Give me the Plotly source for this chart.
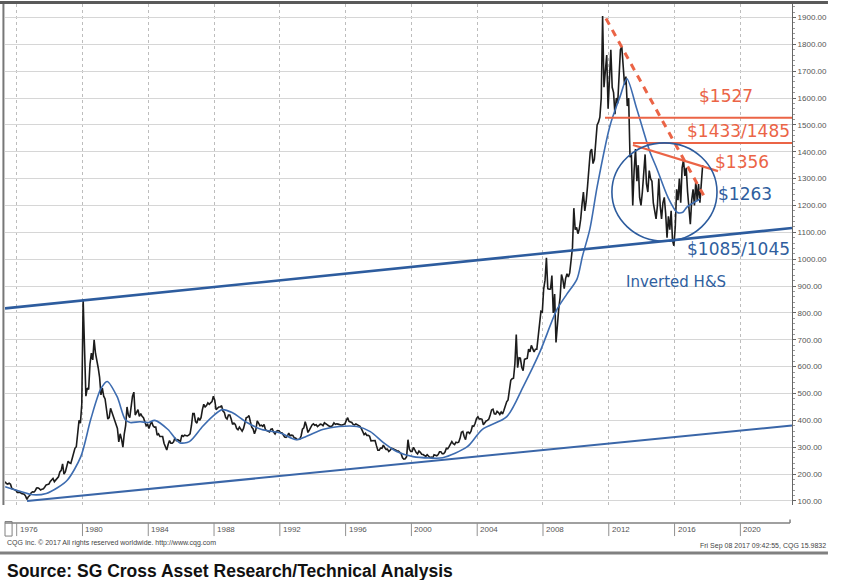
import plotly.graph_objects as go

# ---------------- data ----------------
start_year, start_month = 1975, 4          # first monthly bar: Apr 1975
gold_1975_1979 = [172,165,163,166,162,146,144,141,139,
                  132,131,132,128,126,125,118,106,116,120,130,134,
                  133,138,148,149,146,141,144,145,152,160,161,163,
                  173,178,184,172,178,184,190,208,214,238,200,208,
                  228,248,242,240,258,280,296,302,360,400,390,460]
gold_1980_1989 = [850,660,490,520,515,610,650,625,700,650,625,595,
                  560,495,520,490,480,450,405,410,445,430,415,400,
                  385,370,320,350,330,300,350,380,450,420,410,450,
                  490,505,420,430,440,415,425,415,410,395,380,385,
                  370,385,395,380,375,375,345,350,340,340,340,315,
                  300,290,310,325,315,315,320,335,325,328,325,322,
                  345,340,345,342,342,345,350,380,425,425,395,390,
                  410,400,410,440,460,450,455,465,460,465,470,490,
                  475,440,445,450,450,455,435,430,410,405,420,420,
                  405,385,390,385,370,365,375,365,360,370,395,410]
gold_1990_1999 = [412,418,395,375,368,350,365,398,390,380,382,378,
                  385,365,362,358,357,367,368,356,349,359,362,361,
                  354,354,345,338,337,341,353,343,345,344,335,334,
                  329,329,330,342,367,372,395,378,355,364,374,383,
                  387,382,384,377,381,386,385,380,391,389,384,380,
                  379,376,382,391,385,387,386,383,383,383,386,387,
                  400,410,396,393,392,385,383,387,383,381,378,369,
                  355,347,352,344,344,341,324,324,323,325,306,289,
                  289,297,296,308,299,292,293,284,289,296,294,291,
                  287,287,286,282,276,261,256,257,265,328,293,284]
gold_2000_2009 = [284,300,286,280,275,286,281,274,273,270,266,272,
                  265,262,263,260,272,270,268,273,283,283,276,276,
                  282,296,294,302,314,321,313,310,319,317,319,333,
                  356,359,340,328,355,356,351,360,379,378,389,407,
                  414,405,406,404,384,392,398,400,405,420,439,442,
                  424,423,434,429,422,431,424,438,456,469,476,509,
                  549,555,557,610,720,596,633,632,598,585,627,629,
                  631,665,655,679,667,655,665,665,712,754,806,803,
                  889,922,1005,890,888,889,939,800,870,690,760,816,
                  858,943,924,890,928,946,934,949,996,1043,1190,1110]
gold_2010_2017 = [1118,1095,1113,1148,1205,1250,1180,1215,1271,1342,1400,1410,
                  1356,1372,1424,1500,1510,1529,1600,1905,1640,1720,1760,1560,
                  1660,1780,1640,1620,1540,1600,1580,1660,1780,1790,1700,1650,
                  1680,1570,1600,1380,1390,1200,1330,1410,1290,1350,1230,1200,
                  1250,1330,1390,1280,1250,1330,1300,1290,1210,1180,1150,1200,
                  1300,1200,1150,1210,1230,1170,1080,1160,1110,1180,1070,1050,
                  1120,1260,1220,1300,1210,1340,1370,1310,1340,1250,1170,1130,
                  1220,1260,1200,1290,1220,1280,1210,1300,1350]

# moving average (blue curve)
ma_years = [1975.3,1976.0,1977.0,1977.8,1978.5,1979.1,1979.9,1980.5,1981.1,1981.5,
            1982.1,1982.6,1982.9,1983.5,1984.0,1984.4,1985.2,1985.9,1986.5,1987.3,
            1987.9,1988.5,1989.1,1990.0,1990.9,1992.0,1993.0,1993.6,1994.6,1995.6,
            1996.7,1997.5,1998.3,1999.1,2000.1,2001.1,2001.9,2003.4,2004.3,2005.8,
            2006.8,2007.8,2008.85,2009.45,2010.06,2010.4,2010.85,2011.3,2012.07,2012.7,
            2013.1,2013.7,2014.5,2014.93,2015.6,2016.15,2016.5,2016.75,2017.55]
ma_values = [153,140,123,128,150,179,265,403,515,545,
             489,403,392,395,392,400,366,317,321,377,
             414,440,429,392,366,354,328,340,366,377,
             377,358,317,284,265,260,261,302,366,414,
             526,653,813,870,925,1011,1112,1272,1496,1608,
             1672,1560,1400,1336,1230,1175,1175,1194,1224]

# technical-analysis overlays
upper_trend_x, upper_trend_y = [1975.29, 2023.14], [817, 1116]
lower_trend_x, lower_trend_y = [1976.63, 2023.14], [100, 381]
down_trend_x, down_trend_y = [2011.83, 2017.79], [1896, 1235]
neck_x, neck_y = [2013.47, 2018.64], [1425, 1328]
level_1527_x, level_1527 = 2011.77, 1527
level_1433_x, level_1433 = 2013.47, 1433
circle_x, circle_y = [2012.19, 2018.58], [1067, 1433]

tick_years = [1976, 1980, 1984, 1988, 1992, 1996, 2000, 2004, 2008, 2012, 2016, 2020]
tick_labels = [str(y) for y in tick_years]
x_range = [1975.29, 2023.14]
y_range = [85, 1950]

# ---------------- build ----------------
prices = gold_1975_1979 + gold_1980_1989 + gold_1990_1999 + gold_2000_2009 + gold_2010_2017
dates = [start_year + (start_month - 1 + i + 0.5) / 12 for i in range(len(prices))]

RED = "#EB6446"
BLUE_T = "#2F5E9E"
BLUE_L = "#2D5C9E"

fig = go.Figure()
fig.add_trace(go.Scatter(x=dates, y=prices, mode="lines",
                         line=dict(color="#1c1c1c", width=1.6), hoverinfo="skip"))
fig.add_trace(go.Scatter(x=ma_years, y=ma_values, mode="lines",
                         line=dict(color="#3D6CB0", width=1.6, shape="spline", smoothing=0.8),
                         hoverinfo="skip"))
fig.add_trace(go.Scatter(x=upper_trend_x, y=upper_trend_y, mode="lines",
                         line=dict(color=BLUE_L, width=2.6), hoverinfo="skip"))
fig.add_trace(go.Scatter(x=lower_trend_x, y=lower_trend_y, mode="lines",
                         line=dict(color="#3A66A8", width=2), hoverinfo="skip"))
fig.add_trace(go.Scatter(x=down_trend_x, y=down_trend_y, mode="lines",
                         line=dict(color=RED, width=3, dash="7px,6px"), hoverinfo="skip"))
fig.add_trace(go.Scatter(x=neck_x, y=neck_y, mode="lines",
                         line=dict(color=RED, width=2.2), hoverinfo="skip"))
fig.add_trace(go.Scatter(x=[level_1527_x, x_range[1]], y=[level_1527, level_1527], mode="lines",
                         line=dict(color=RED, width=2), hoverinfo="skip"))
fig.add_trace(go.Scatter(x=[level_1433_x, x_range[1]], y=[level_1433, level_1433], mode="lines",
                         line=dict(color=RED, width=2), hoverinfo="skip"))

shapes = [
    dict(type="circle", xref="x", yref="y", x0=circle_x[0], x1=circle_x[1],
         y0=circle_y[0], y1=circle_y[1], line=dict(color=BLUE_L, width=1.6)),
    # frame: top bar and left edge
    dict(type="line", xref="paper", yref="paper", x0=-0.0064, x1=1.0457, y0=1.003, y1=1.003,
         line=dict(color="#5a5a5a", width=3)),
    dict(type="line", xref="paper", yref="paper", x0=-0.002, x1=-0.002, y0=0, y1=1,
         line=dict(color="#777777", width=2)),
    # time strip below the chart
    dict(type="line", xref="paper", yref="paper", x0=0, x1=0.9975, y0=-0.0359, y1=-0.0359,
         line=dict(color="#808080", width=1.5)),
    dict(type="line", xref="paper", yref="paper", x0=0.9975, x1=0.9975, y0=-0.0359, y1=-0.029,
         line=dict(color="#808080", width=1.5)),
    dict(type="rect", xref="paper", yref="paper", x0=0.0, x1=0.009, y0=-0.033, y1=-0.062,
         line=dict(color="#808080", width=1)),
    # bottom rule
    dict(type="line", xref="paper", yref="paper", x0=-0.0064, x1=1.0457, y0=-0.0958, y1=-0.0958,
         line=dict(color="#808080", width=3)),
]
for ty in tick_years:
    shapes.append(dict(type="line", xref="x", yref="paper", x0=ty, x1=ty, y0=-0.0359, y1=-0.062,
                       line=dict(color="#909090", width=1)))

annotations = []
for ty, tl in zip(tick_years, tick_labels):
    annotations.append(dict(x=ty, y=-0.049, xref="x", yref="paper", text=tl, showarrow=False,
                            xanchor="left", yanchor="middle", xshift=1,
                            font=dict(family="Liberation Sans", size=8, color="#555555")))

def label(x, y, txt, color, size):
    annotations.append(dict(x=x, y=y, xref="x", yref="y", text=txt, showarrow=False,
                            xanchor="center", yanchor="middle",
                            font=dict(family="DejaVu Sans", size=size, color=color)))

label(2019.13, 1608, "$1527", RED, 17)
label(2019.86, 1478, "$1433/1485", RED, 17)
label(2020.10, 1362, "$1356", RED, 17)
label(2020.28, 1243, "$1263", BLUE_T, 17)
label(2019.86, 1037, "$1085/1045", BLUE_T, 17)
label(2016.08, 914, "Inverted H&S", BLUE_T, 15)

annotations += [
    dict(x=0, y=-0.0758, xref="paper", yref="paper", showarrow=False, xanchor="left", yanchor="middle",
         text="CQG Inc. © 2017 All rights reserved worldwide. http://www.cqg.com",
         font=dict(family="Liberation Sans", size=7, color="#444444")),
    dict(x=1.0457, y=-0.0818, xref="paper", yref="paper", showarrow=False, xanchor="right", yanchor="middle",
         text="Fri Sep 08 2017 09:42:55, CQG 15.9832",
         font=dict(family="Liberation Sans", size=7, color="#444444")),
    dict(x=0, y=-0.1317, xref="paper", yref="paper", showarrow=False, xanchor="left", yanchor="middle",
         text="<b>Source: SG Cross Asset Research/Technical Analysis</b>",
         font=dict(family="Liberation Sans", size=17.5, color="#111111")),
]

fig.update_layout(
    width=856, height=580,
    margin=dict(l=5, r=64, t=4, b=75),
    plot_bgcolor="white", paper_bgcolor="white",
    showlegend=False,
    shapes=shapes, annotations=annotations,
    xaxis=dict(range=x_range, tickvals=tick_years, showticklabels=False, ticks="",
               showgrid=True, gridcolor="#bdbdbd", griddash="dot", gridwidth=1,
               zeroline=False, showline=False, fixedrange=True),
    yaxis=dict(range=y_range, side="right", dtick=100, tick0=0, tickformat=".2f",
               showgrid=True, gridcolor="#d6d6d6", gridwidth=1, zeroline=False,
               showline=True, linecolor="#666666", linewidth=1,
               ticks="outside", ticklen=3, tickcolor="#666666",
               minor=dict(dtick=20, ticks="outside", ticklen=2, tickcolor="#999999"),
               tickfont=dict(family="Liberation Sans", size=8, color="#555555"),
               fixedrange=True),
)

fig.write_html("out.html")
